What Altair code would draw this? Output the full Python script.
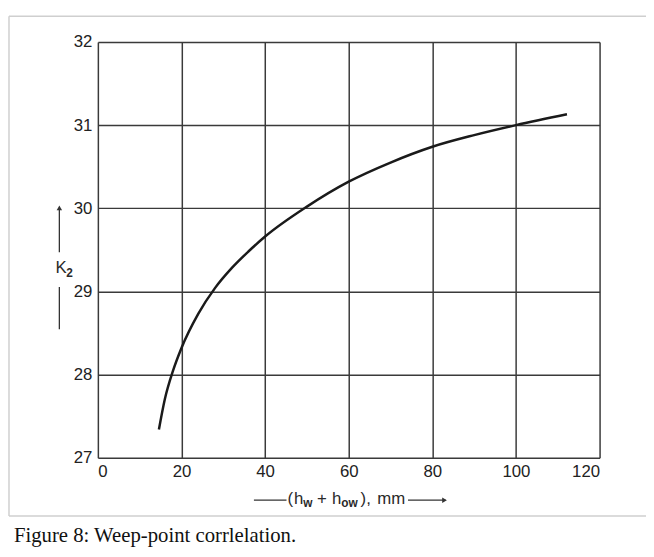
import altair as alt
import pandas as pd

# Curve
hw_how = [14.6, 16, 18, 20, 24, 28, 32, 36, 40, 50, 60, 70, 80, 90, 100, 112.2]
k2 = [27.34, 27.7, 28.05, 28.32, 28.73, 29.04, 29.28, 29.48, 29.66, 30.02,
      30.32, 30.55, 30.74, 30.88, 31.0, 31.13]

x_ticks = [0, 20, 40, 60, 80, 100, 120]
y_ticks = [27, 28, 29, 30, 31, 32]

df = pd.DataFrame({"x": hw_how, "y": k2})
one = pd.DataFrame({"a": [0]})

GRID = "#3a3a3a"
SANS = "Liberation Sans"

curve = alt.Chart(df).mark_line(
    color="#1a1a1a", strokeWidth=2.5, interpolate="monotone"
).encode(
    x=alt.X("x:Q", scale=alt.Scale(domain=[0, 120], nice=False, zero=False),
            axis=alt.Axis(values=x_ticks, grid=True, gridColor=GRID, gridWidth=1.5,
                          gridOpacity=1, domain=False, ticks=False, title=None,
                          labelPadding=6, format="d")),
    y=alt.Y("y:Q", scale=alt.Scale(domain=[27, 32], nice=False, zero=False),
            axis=alt.Axis(values=y_ticks, grid=True, gridColor=GRID, gridWidth=1.5,
                          gridOpacity=1, domain=False, ticks=False, title=None,
                          labelPadding=6, format="d")),
)

def txt(s, x, y, size=17, font=SANS, color="#2a2a2a", align="left", weight="normal"):
    return alt.Chart(one).mark_text(
        text=s, font=font, fontSize=size, color=color, align=align,
        baseline="alphabetic", fontWeight=weight
    ).encode(x=alt.value(x), y=alt.value(y))

def hline(x1, x2, y, color="#333", w=1.3):
    return alt.Chart(one).mark_rule(color=color, strokeWidth=w).encode(
        x=alt.value(x1), x2=alt.value(x2), y=alt.value(y))

def vline(x, y1, y2, color="#333", w=1.3):
    return alt.Chart(one).mark_rule(color=color, strokeWidth=w).encode(
        x=alt.value(x), y=alt.value(y1), y2=alt.value(y2))

def arrow(x, y, shape):
    return alt.Chart(one).mark_point(
        shape=shape, filled=True, color="#333", size=30, opacity=1
    ).encode(x=alt.value(x), y=alt.value(y))

layers = [
    curve,
    # x-axis title with arrows
    hline(158, 191, 464),
    txt("(", 192, 468),
    txt("h", 198.5, 468),
    txt("w", 208, 471, size=12, weight="bold"),
    txt("+", 222, 468),
    txt("h", 237, 468),
    txt("ow", 246.5, 471, size=12, weight="bold"),
    txt("),", 266, 468),
    txt("mm", 283, 468),
    hline(314, 352, 464),
    arrow(351, 464, "triangle-right"),
    # y-axis title with arrows
    vline(-39, 170, 213),
    arrow(-39, 168, "triangle-up"),
    txt("K", -43, 234),
    txt("2", -32, 238, size=12, weight="bold"),
    vline(-39, 248, 291),
    # figure frame + caption
    vline(-90, -26, 480, color="#cfcfcf", w=1.5),
    hline(-90, 560, -26, color="#cfcfcf", w=1.5),
    hline(-90, 560, 480, color="#cfcfcf", w=1.5),
    txt("Figure 8: Weep-point corrlelation.", -85, 506, size=21,
        font="Liberation Serif", color="#111"),
]

chart = alt.layer(*layers).properties(
    width=508, height=421,
    autosize=alt.AutoSizeParams(type="none"),
    padding={"left": 91, "top": 31, "right": 47, "bottom": 89},
).configure_view(stroke=None).configure_axis(
    labelFont=SANS, labelFontSize=17, labelColor="#222"
)

chart.save("out.html", embed_options={"renderer": "svg", "actions": False})
